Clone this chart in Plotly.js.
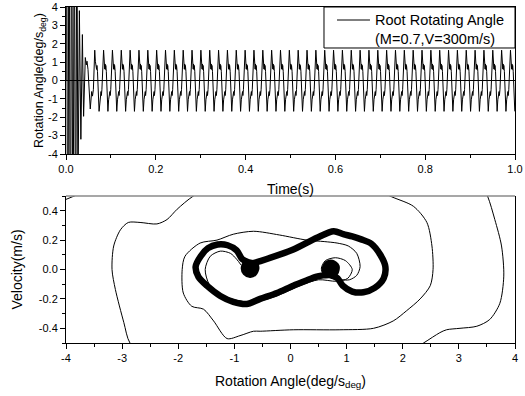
<!DOCTYPE html>
<html><head><meta charset="utf-8">
<script src="https://cdn.plot.ly/plotly-3.0.1.min.js"></script>
<style>html,body{margin:0;padding:0;background:#fff}#chart{width:525px;height:396px}</style>
</head><body><div id="chart"></div>
<script>
// ---------- Top panel: root rotating angle vs time ----------
// start-up transient (values beyond the +/-4 window are clipped by the axis)
const transientTime  = [0, 0.001, 0.0039, 0.0068, 0.0097, 0.0126, 0.0155, 0.0184, 0.0213, 0.0242, 0.0266, 0.0298, 0.0331, 0.0365, 0.0392, 0.0430, 0.0452, 0.0468, 0.0490, 0.0540, 0.0572, 0.0590, 0.0610];
const transientAngle = [0, 18, -18, 16, -16, 14, -14, 12, -12, 10, -7, 3.8, -3.2, 2.5, -1.95, 1.25, 0.85, 1.05, 0.6, -1.55, -0.6, -0.85, -0.5];
// times of the regular peaks
const peakTimes = [0.064, 0.0837, 0.1034, 0.1231, 0.1428, 0.1625, 0.1822, 0.2019, 0.2216, 0.2413,
  0.261, 0.2807, 0.3004, 0.3201, 0.3398, 0.3595, 0.3792, 0.3989, 0.4186, 0.4383,
  0.458, 0.4777, 0.4974, 0.5171, 0.5368, 0.5565, 0.5762, 0.5959, 0.6156, 0.6353,
  0.655, 0.6747, 0.6944, 0.7141, 0.7338, 0.7535, 0.7732, 0.7929, 0.8126, 0.8323,
  0.852, 0.8717, 0.8914, 0.9111, 0.9308, 0.9505, 0.9702, 0.9899];
// shape of one cycle (position within the cycle, angle value)
const cyclePhase = [0, 0.07, 0.13, 0.17, 0.21, 0.25, 0.31, 0.49, 0.57, 0.63, 0.67, 0.71, 0.75, 0.81];
const cycleAngle = [1.65, 1.05, 0.62, 0.9, 0.6, 0.82, 0.5, -1.68, -1.05, -0.62, -0.9, -0.6, -0.82, -0.5];
const lastPeriod = 0.0197;

// ---------- Bottom panel: phase portrait ----------
const transPathX = [-4.3, -3.6, -2.0, 0.0, 2.5, 3.3, 3.51, 3.64, 3.76, 3.80, 3.73, 3.55, 3.32, 3.02, 2.78, 2.66, 2.37, 1.5, -1.0, -2.5,
  -2.86, -2.97, -3.12, -3.18, -3.15, -3.03, -2.89, -2.68, -2.38, -2.20, -2.02, -1.73, -1.2, 0.0, 1.2,
  1.80, 2.19, 2.43, 2.52, 2.54, 2.49, 2.31, 2.07, 1.83, 1.48, 0.88, 0.05, -0.54, -0.66, -0.9, -1.13, -1.37, -1.55, -1.76, -1.91, -1.93, -1.88, -1.61, -1.31, -1.02, -0.66,
  -0.2, 0.29, 0.6, 0.83, 1.03, 1.18, 1.24, 1.18, 1.05, 0.9, 0.72, 0.58, 0.55, 0.62, 0.8, 0.98, 1.1, 1.02, 0.82, 0.5,
  0.17, -0.18, -0.5, -0.78, -1.05, -1.28, -1.45, -1.52, -1.43, -1.25, -1.07, -0.96, -0.88];
const transPathY = [0.43, 0.54, 0.8, 0.9, 0.8, 0.65, 0.5, 0.34, 0.16, -0.045, -0.23, -0.34, -0.386, -0.40, -0.41, -0.43, -0.5, -0.7, -0.75, -0.62,
  -0.5, -0.36, -0.136, 0.0, 0.16, 0.27, 0.32, 0.32, 0.31, 0.34, 0.41, 0.5, 0.6, 0.65, 0.6,
  0.495, 0.43, 0.32, 0.16, 0.0, -0.11, -0.2, -0.28, -0.35, -0.40, -0.41, -0.41, -0.42, -0.42, -0.45, -0.47, -0.35, -0.27, -0.25, -0.16, 0.0, 0.09, 0.18, 0.2, 0.24, 0.26,
  0.235, 0.2, 0.19, 0.18, 0.16, 0.11, 0.02, -0.04, -0.07, -0.07, -0.06, -0.03, 0.01, 0.06, 0.08, 0.06, 0.0, -0.06, -0.08, -0.07,
  -0.11, -0.17, -0.21, -0.22, -0.2, -0.16, -0.1, 0.0, 0.09, 0.125, 0.11, 0.07, 0.03];
// settled limit cycle (thick band), including the small loops at about +/-0.72
const cycleX = [-0.96, -0.86, -0.76, -0.65, -0.61, -0.65, -0.72, -0.8, -0.83, -0.79, -0.72, -0.66, -0.68, -0.72, -0.77, -0.76, -0.7, -0.6, -0.54,
  0.05, 0.47, 0.77, 0.94, 1.1, 1.26, 1.44, 1.6, 1.69, 1.66, 1.5, 1.3, 1.1, 0.93, 0.84,
  0.72, 0.63, 0.61, 0.66, 0.74, 0.82, 0.8, 0.74, 0.68, 0.67, 0.71, 0.77, 0.76, 0.7, 0.58, 0.45, 0.35, 0.05, -0.24, -0.54, -0.78, -1.02, -1.25, -1.49, -1.64, -1.69, -1.6, -1.47, -1.3, -1.12, -0.96];
const cycleY = [0.13, 0.07, 0.05, 0.04, 0.01, -0.025, -0.035, -0.02, 0.01, 0.045, 0.045, 0.025, -0.01, -0.02, -0.005, 0.025, 0.04, 0.05, 0.057,
  0.136, 0.216, 0.26, 0.24, 0.225, 0.205, 0.175, 0.1, 0.02, -0.06, -0.125, -0.155, -0.15, -0.11, -0.06,
  -0.035, -0.02, 0.005, 0.04, 0.045, 0.02, -0.02, -0.03, -0.015, 0.015, 0.03, 0.015, -0.02, -0.035, -0.04, -0.05, -0.065, -0.11, -0.16, -0.2, -0.235, -0.22, -0.18, -0.11, -0.05, 0.02, 0.09, 0.145, 0.17, 0.165, 0.13];

// tick labels
const topXTicks = [0, 0.2, 0.4, 0.6, 0.8, 1.0];
const topXText = ['0.0', '0.2', '0.4', '0.6', '0.8', '1.0'];
const topYTicks = [-4, -3, -2, -1, 0, 1, 2, 3, 4];
const topYText = ['-4', '-3', '-2', '-1', '0', '1', '2', '3', '4'];
const botXTicks = [-4, -3, -2, -1, 0, 1, 2, 3, 4];
const botXText = ['-4', '-3', '-2', '-1', '0', '1', '2', '3', '4'];
const botYTicks = [-0.4, -0.2, 0, 0.2, 0.4];
const botYText = ['-0.4', '-0.2', '0.0', '0.2', '0.4'];
const legendLabel = 'Root Rotating Angle<br>(M=0.7,V=300m/s)';

// assemble the time series from the read pieces
const timeT = transientTime.slice();
const timeA = transientAngle.slice();
peakTimes.forEach((p, i) => {
  const per = i + 1 < peakTimes.length ? peakTimes[i + 1] - p : lastPeriod;
  cyclePhase.forEach((f, j) => {
    const t = p + f * per;
    if (t <= 1.0) { timeT.push(t); timeA.push(cycleAngle[j]); }
  });
});

const FONT = 'Liberation Sans, Arial, Helvetica, sans-serif';
const tickFont = {family: FONT, size: 11, color: '#000'};
function axisBase(extra) {
  return Object.assign({
    showline: true, linecolor: '#000', linewidth: 1,
    ticks: 'outside', ticklen: 5, tickwidth: 1, tickcolor: '#000',
    showgrid: false, zeroline: false, tickfont: tickFont, tickmode: 'array'
  }, extra);
}

const traces = [
  {x: timeT, y: timeA, type: 'scatter', mode: 'lines', xaxis: 'x', yaxis: 'y',
   line: {color: '#000', width: 1}, name: 'Root Rotating Angle', showlegend: false},
  {x: transPathX, y: transPathY, type: 'scatter', mode: 'lines', xaxis: 'x2', yaxis: 'y2',
   line: {color: '#000', width: 1, shape: 'spline', smoothing: 0.8}, showlegend: false},
  {x: cycleX, y: cycleY, type: 'scatter', mode: 'lines', xaxis: 'x2', yaxis: 'y2',
   line: {color: '#000', width: 6.5, shape: 'spline', smoothing: 0.8}, showlegend: false}
];

const layout = {
  width: 525, height: 396,
  margin: {l: 66, r: 10, t: 7, b: 53},
  paper_bgcolor: '#fff', plot_bgcolor: '#fff',
  font: {family: FONT, color: '#000'},
  showlegend: false,
  xaxis: axisBase({domain: [0, 1], anchor: 'y', range: [0, 1], mirror: true,
    tickvals: topXTicks, ticktext: topXText,
    minor: {tickmode: 'linear', tick0: 0, dtick: 0.1, ticks: 'outside', ticklen: 3, tickcolor: '#000'},
    title: {text: 'Time(s)', font: {family: FONT, size: 14, color: '#000'}, standoff: 9}}),
  yaxis: axisBase({domain: [0.5625, 1], anchor: 'x', range: [-4, 4], mirror: true,
    tickvals: topYTicks, ticktext: topYText,
    zeroline: true, zerolinecolor: '#000', zerolinewidth: 1,
    minor: {tickmode: 'linear', tick0: 0, dtick: 0.5, ticks: 'outside', ticklen: 3, tickcolor: '#000'},
    title: {text: 'Rotation Angle(deg/s<sub>deg</sub>)', font: {family: FONT, size: 12.5, color: '#000'}, standoff: 0}}),
  xaxis2: axisBase({domain: [0, 1], anchor: 'y2', range: [-4, 4], mirror: false,
    tickvals: botXTicks, ticktext: botXText,
    minor: {tickmode: 'linear', tick0: 0, dtick: 0.5, ticks: 'outside', ticklen: 3, tickcolor: '#000'},
    title: {text: 'Rotation Angle(deg/s<sub>deg</sub>)', font: {family: FONT, size: 14, color: '#000'}, standoff: 12}}),
  yaxis2: axisBase({domain: [0, 0.4375], anchor: 'x2', range: [-0.5, 0.5], mirror: true,
    tickvals: botYTicks, ticktext: botYText,
    minor: {tickmode: 'linear', tick0: 0, dtick: 0.1, ticks: 'outside', ticklen: 3, tickcolor: '#000'},
    title: {text: 'Velocity(m/s)', font: {family: FONT, size: 14, color: '#000'}, standoff: 12}}),
  shapes: [
    {type: 'line', xref: 'x2 domain', yref: 'y2 domain', x0: 0, x1: 1, y0: 1, y1: 1,
     line: {color: '#8a8a8a', width: 1.5}},
    // legend box and line sample
    {type: 'rect', xref: 'paper', yref: 'paper', x0: 0.5746, x1: 1.0, y0: 0.878, y1: 1.0,
     fillcolor: '#fff', line: {color: '#000', width: 1}, layer: 'above'},
    {type: 'line', xref: 'paper', yref: 'paper', x0: 0.6036, x1: 0.677, y0: 0.9613, y1: 0.9613,
     line: {color: '#000', width: 1}, layer: 'above'}
  ],
  annotations: [
    {xref: 'paper', yref: 'paper', x: 0.684, y: 0.9345, xanchor: 'left', yanchor: 'middle', align: 'left',
     showarrow: false, text: legendLabel, font: {family: FONT, size: 14.5, color: '#000'}}
  ]
};

Plotly.newPlot('chart', traces, layout, {displayModeBar: false, staticPlot: true});
</script>
</body></html>
